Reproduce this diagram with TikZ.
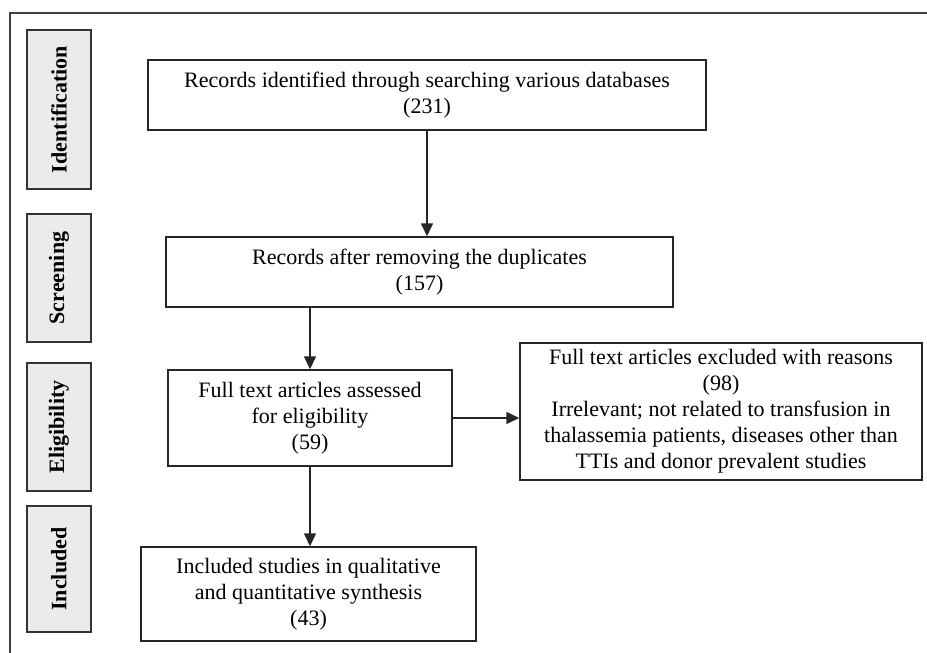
\documentclass[tikz,border=0pt]{standalone}
\usepackage{fontspec}
\setmainfont{Liberation Serif}
\usetikzlibrary{arrows.meta}

\begin{document}
\begin{tikzpicture}[
  x=0.5pt, y=-0.5pt,
  phase/.style={draw=black!80, fill=black!8, line width=0.7pt, rotate=90,
    inner sep=0pt, font=\fontsize{11}{13}\selectfont\bfseries},
  record/.style={draw=black!85, line width=0.7pt, align=center, inner sep=2pt,
    font=\fontsize{11}{13}\selectfont},
  flow/.style={-{Triangle[length=6.5pt, width=6pt]}, line width=0.7pt, black!85},
]

\useasboundingbox (0, 0) rectangle (927, 653);

% ============================================================
% OUTER FRAME (top and left edges)
% ============================================================
\draw[black!75, line width=1pt] (927, 13) -- (10, 13) -- (10, 653);

% ============================================================
% PHASE LABELS (left column)
% ============================================================
\node[phase, minimum width=79.5pt, minimum height=32pt]
  (identification) at (59, 109.5) {Identification};
\node[phase, minimum width=64pt, minimum height=32pt]
  (screening) at (59, 278) {Screening};
\node[phase, minimum width=64pt, minimum height=32pt]
  (eligibility) at (59, 427) {Eligibility};
\node[phase, minimum width=63pt, minimum height=32pt]
  (included) at (59, 569) {Included};

% ============================================================
% RECORD BOXES
% ============================================================
\node[record, minimum width=279pt, minimum height=35pt]
  (identified) at (427, 95) {%
  Records identified through searching various databases\\(231)};
\node[record, minimum width=253.5pt, minimum height=35pt]
  (deduplicated) at (419.5, 272) {%
  Records after removing the duplicates\\(157)};
\node[record, minimum width=142pt, minimum height=48pt]
  (assessed) at (310, 418) {%
  Full text articles assessed\\for eligibility\\(59)};
\node[record, minimum width=201pt, minimum height=68.5pt]
  (excluded) at (721, 411.5) {%
  Full text articles excluded with reasons\\(98)\\
  Irrelevant; not related to transfusion in\\
  thalassemia patients, diseases other than\\
  TTIs and donor prevalent studies};
\node[record, minimum width=167.5pt, minimum height=47pt]
  (synthesis) at (308.5, 594) {%
  Included studies in qualitative\\and quantitative synthesis\\(43)};

% ============================================================
% ARROWS
% ============================================================
\draw[flow] (identified.south) -- (identified.south |- deduplicated.north);
\draw[flow] (assessed.north |- deduplicated.south) -- (assessed.north);
\draw[flow] (assessed.east) -- (assessed.east -| excluded.west);
\draw[flow] (assessed.south) -- (assessed.south |- synthesis.north);

\end{tikzpicture}
\end{document}
